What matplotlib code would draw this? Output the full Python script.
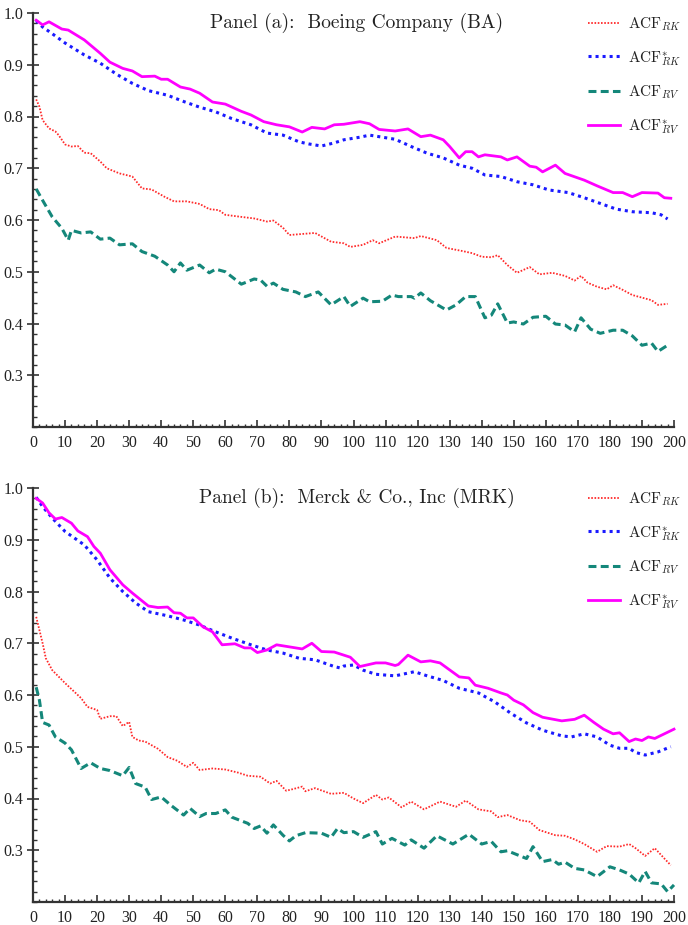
import matplotlib
matplotlib.use("Agg")
import matplotlib.pyplot as plt
from matplotlib.ticker import MultipleLocator, FormatStrFormatter

plt.rcParams['mathtext.fontset'] = 'cm'

# ---------------- Panel (a): Boeing ----------------
a_rk_lag = [1, 2, 3, 5, 7, 8, 10, 12, 14, 16, 18, 21, 23, 27, 31, 34, 37, 41, 44, 48, 52, 55, 58, 60, 65, 69, 73, 75, 78, 80, 88, 93, 97, 99, 103, 106, 108, 113, 119, 121, 126, 129, 134, 137, 140, 143, 145, 148, 151, 155, 158, 162, 166, 169, 171, 173, 176, 179, 181, 184, 187, 193, 195, 198]
a_rk = [0.833, 0.819, 0.793, 0.777, 0.771, 0.764, 0.746, 0.742, 0.743, 0.730, 0.729, 0.713, 0.700, 0.690, 0.684, 0.661, 0.659, 0.645, 0.636, 0.636, 0.631, 0.621, 0.619, 0.610, 0.606, 0.603, 0.597, 0.599, 0.585, 0.571, 0.575, 0.558, 0.555, 0.548, 0.552, 0.561, 0.555, 0.568, 0.565, 0.569, 0.561, 0.546, 0.540, 0.536, 0.529, 0.528, 0.532, 0.513, 0.498, 0.509, 0.495, 0.498, 0.492, 0.483, 0.492, 0.479, 0.471, 0.466, 0.474, 0.465, 0.455, 0.445, 0.436, 0.438]

a_rks_lag = [1, 3, 6, 10, 16, 21, 26, 31, 36, 42, 47, 52, 57, 62, 68, 73, 78, 83, 86, 90, 94, 97, 102, 105, 108, 113, 118, 123, 128, 133, 137, 141, 146, 151, 156, 161, 167, 172, 177, 182, 187, 193, 196, 198]
a_rks = [0.985, 0.973, 0.960, 0.942, 0.919, 0.903, 0.882, 0.864, 0.850, 0.841, 0.829, 0.818, 0.809, 0.796, 0.784, 0.768, 0.764, 0.751, 0.747, 0.743, 0.749, 0.755, 0.760, 0.764, 0.761, 0.756, 0.742, 0.729, 0.720, 0.706, 0.700, 0.687, 0.684, 0.674, 0.668, 0.658, 0.653, 0.643, 0.632, 0.621, 0.616, 0.614, 0.610, 0.602]

a_rv_lag = [1, 3, 6, 9, 11, 12, 15, 18, 21, 24, 27, 31, 34, 38, 42, 44, 46, 48, 52, 55, 57, 60, 65, 69, 71, 73, 75, 78, 82, 85, 89, 93, 97, 99, 103, 105, 109, 112, 114, 118, 119, 121, 124, 129, 132, 135, 138, 141, 143, 145, 148, 150, 153, 156, 160, 163, 166, 169, 171, 174, 177, 181, 184, 187, 190, 193, 195, 198]
a_rv = [0.660, 0.638, 0.606, 0.584, 0.561, 0.580, 0.575, 0.577, 0.563, 0.565, 0.552, 0.554, 0.539, 0.530, 0.513, 0.500, 0.517, 0.503, 0.513, 0.498, 0.505, 0.500, 0.476, 0.486, 0.484, 0.472, 0.478, 0.466, 0.461, 0.452, 0.461, 0.436, 0.452, 0.433, 0.449, 0.442, 0.443, 0.455, 0.452, 0.452, 0.449, 0.459, 0.444, 0.426, 0.436, 0.452, 0.452, 0.411, 0.416, 0.438, 0.401, 0.403, 0.399, 0.412, 0.414, 0.399, 0.397, 0.384, 0.411, 0.389, 0.381, 0.387, 0.387, 0.376, 0.358, 0.362, 0.346, 0.358]

a_rvs_lag = [1, 3, 5, 9, 11, 16, 21, 24, 28, 31, 34, 38, 40, 42, 46, 49, 52, 56, 60, 65, 68, 72, 76, 80, 84, 87, 91, 94, 97, 102, 105, 108, 113, 117, 121, 124, 128, 130, 133, 135, 137, 139, 141, 146, 148, 151, 155, 157, 159, 163, 166, 172, 176, 181, 184, 187, 190, 195, 197, 199]
a_rvs = [0.986, 0.977, 0.983, 0.969, 0.967, 0.948, 0.922, 0.905, 0.893, 0.888, 0.877, 0.878, 0.872, 0.872, 0.857, 0.853, 0.845, 0.828, 0.824, 0.810, 0.803, 0.790, 0.784, 0.780, 0.770, 0.779, 0.776, 0.784, 0.785, 0.790, 0.786, 0.775, 0.772, 0.776, 0.761, 0.764, 0.755, 0.742, 0.720, 0.732, 0.732, 0.722, 0.726, 0.722, 0.716, 0.722, 0.704, 0.702, 0.693, 0.706, 0.690, 0.677, 0.666, 0.653, 0.653, 0.645, 0.653, 0.652, 0.643, 0.642]

# ---------------- Panel (b): Merck ----------------
b_rk_lag = [1, 3, 4, 6, 10, 15, 17, 20, 21, 24, 26, 28, 30, 31, 33, 35, 39, 42, 45, 48, 50, 52, 56, 60, 64, 67, 71, 74, 76, 79, 81, 84, 85, 88, 93, 97, 100, 103, 107, 109, 111, 115, 118, 122, 127, 132, 135, 139, 143, 145, 148, 152, 155, 158, 163, 166, 169, 172, 176, 179, 183, 186, 188, 191, 194, 197, 199]
b_rk = [0.751, 0.700, 0.671, 0.648, 0.623, 0.594, 0.577, 0.571, 0.554, 0.559, 0.559, 0.540, 0.548, 0.519, 0.512, 0.510, 0.496, 0.480, 0.473, 0.461, 0.469, 0.455, 0.458, 0.456, 0.450, 0.444, 0.442, 0.429, 0.434, 0.415, 0.418, 0.423, 0.414, 0.420, 0.409, 0.411, 0.400, 0.391, 0.407, 0.398, 0.402, 0.383, 0.394, 0.379, 0.394, 0.384, 0.396, 0.379, 0.375, 0.364, 0.368, 0.358, 0.355, 0.339, 0.329, 0.328, 0.321, 0.312, 0.297, 0.308, 0.307, 0.312, 0.304, 0.289, 0.304, 0.284, 0.271]

b_rks_lag = [1, 3, 6, 10, 16, 20, 24, 28, 32, 36, 42, 47, 52, 57, 62, 68, 73, 78, 83, 88, 94, 96, 97, 100, 103, 107, 113, 119, 123, 128, 133, 139, 141, 144, 149, 154, 159, 165, 168, 172, 176, 180, 183, 186, 188, 191, 195, 199]
b_rks = [0.982, 0.964, 0.942, 0.916, 0.890, 0.861, 0.826, 0.800, 0.778, 0.761, 0.753, 0.745, 0.735, 0.722, 0.710, 0.697, 0.687, 0.681, 0.671, 0.668, 0.655, 0.652, 0.656, 0.658, 0.648, 0.640, 0.637, 0.645, 0.637, 0.628, 0.613, 0.604, 0.597, 0.587, 0.565, 0.546, 0.532, 0.521, 0.519, 0.525, 0.519, 0.503, 0.497, 0.497, 0.489, 0.484, 0.490, 0.500]

b_rv_lag = [1, 2, 3, 5, 7, 10, 12, 15, 18, 21, 24, 28, 30, 32, 35, 37, 40, 43, 47, 49, 52, 54, 57, 60, 62, 67, 69, 71, 73, 75, 78, 80, 82, 85, 90, 93, 95, 97, 100, 103, 107, 109, 112, 116, 118, 122, 126, 131, 136, 140, 143, 146, 148, 154, 156, 159, 162, 164, 166, 169, 172, 176, 180, 183, 186, 189, 191, 193, 196, 198, 200]
b_rv = [0.615, 0.590, 0.547, 0.542, 0.519, 0.507, 0.494, 0.458, 0.469, 0.458, 0.454, 0.444, 0.460, 0.429, 0.422, 0.398, 0.403, 0.387, 0.368, 0.381, 0.365, 0.371, 0.371, 0.378, 0.364, 0.352, 0.342, 0.347, 0.333, 0.349, 0.329, 0.318, 0.328, 0.334, 0.333, 0.325, 0.342, 0.334, 0.336, 0.325, 0.336, 0.312, 0.323, 0.310, 0.320, 0.304, 0.328, 0.312, 0.331, 0.312, 0.317, 0.297, 0.299, 0.284, 0.307, 0.278, 0.282, 0.273, 0.277, 0.265, 0.262, 0.249, 0.268, 0.262, 0.254, 0.237, 0.259, 0.237, 0.235, 0.220, 0.233]

b_rvs_lag = [1, 3, 5, 7, 9, 12, 14, 17, 19, 21, 24, 28, 31, 36, 39, 42, 44, 46, 48, 50, 53, 56, 59, 63, 66, 68, 70, 73, 76, 80, 84, 87, 90, 94, 97, 99, 102, 107, 110, 113, 114, 117, 121, 124, 127, 133, 136, 138, 142, 146, 148, 150, 153, 156, 159, 165, 169, 172, 175, 178, 181, 183, 186, 188, 190, 192, 194, 197, 200]
b_rvs = [0.980, 0.971, 0.952, 0.940, 0.943, 0.932, 0.917, 0.906, 0.887, 0.874, 0.842, 0.813, 0.797, 0.772, 0.769, 0.770, 0.759, 0.758, 0.749, 0.749, 0.732, 0.722, 0.697, 0.699, 0.691, 0.691, 0.682, 0.687, 0.697, 0.693, 0.689, 0.700, 0.684, 0.683, 0.677, 0.673, 0.655, 0.662, 0.662, 0.657, 0.659, 0.677, 0.664, 0.666, 0.662, 0.635, 0.633, 0.619, 0.613, 0.604, 0.600, 0.590, 0.581, 0.566, 0.557, 0.550, 0.553, 0.561, 0.547, 0.534, 0.525, 0.527, 0.510, 0.515, 0.512, 0.519, 0.516, 0.525, 0.534]

titles = ["Panel (a):  Boeing Company (BA)", "Panel (b):  Merck & Co., Inc (MRK)"]
labels = [r'$\mathrm{ACF}_{RK}$', r'$\mathrm{ACF}^{*}_{RK}$', r'$\mathrm{ACF}_{RV}$', r'$\mathrm{ACF}^{*}_{RV}$']
xticks = list(range(0, 201, 10))
yticks = [0.3, 0.4, 0.5, 0.6, 0.7, 0.8, 0.9, 1.0]

panels = [
    [(a_rk_lag, a_rk), (a_rks_lag, a_rks), (a_rv_lag, a_rv), (a_rvs_lag, a_rvs)],
    [(b_rk_lag, b_rk), (b_rks_lag, b_rks), (b_rv_lag, b_rv), (b_rvs_lag, b_rvs)],
]

styles = [
    dict(color='#ff2a2a', lw=1.3, linestyle=(0, (0.9, 0.9))),
    dict(color='#1a1aff', lw=2.2, linestyle=(0, (1.0, 1.3))),
    dict(color='#14877a', lw=2.2, linestyle=(0, (2.6, 1.4))),
    dict(color='#ff00ff', lw=2.0, linestyle='-'),
]

W, H = 688, 925
fig = plt.figure(figsize=(W / 100, H / 100), dpi=100)

ax_px = [(33, 13, 674, 427), (33, 488, 674, 902)]
spine_col = '#333333'

for i, (series, (x0, y0, x1, y1)) in enumerate(zip(panels, ax_px)):
    ax = fig.add_axes([x0 / W, 1 - y1 / H, (x1 - x0) / W, (y1 - y0) / H])
    handles = []
    for (lx, ly), st, lab in zip(series, styles, labels):
        h, = ax.plot(lx, ly, label=lab, clip_on=False, **st)
        handles.append(h)
    ax.set_xlim(0, 200)
    ax.set_ylim(0.2, 1.0)
    ax.set_xticks(xticks)
    ax.set_yticks(yticks)
    ax.xaxis.set_minor_locator(MultipleLocator(2))
    ax.yaxis.set_minor_locator(MultipleLocator(0.02))
    ax.yaxis.set_major_formatter(FormatStrFormatter('%.1f'))
    for s in ['top', 'right']:
        ax.spines[s].set_visible(False)
    for s in ['left', 'bottom']:
        ax.spines[s].set_color(spine_col)
        ax.spines[s].set_linewidth(1.6)
    ax.tick_params(axis='x', which='major', direction='in', length=5, width=1.2,
                   color=spine_col, pad=6)
    ax.tick_params(axis='x', which='minor', direction='in', length=2.5, width=1.0,
                   color=spine_col)
    ax.tick_params(axis='y', which='major', direction='inout', length=8, width=1.2,
                   color=spine_col, pad=3)
    ax.tick_params(axis='y', which='minor', direction='in', length=3, width=1.0,
                   color=spine_col)
    for lab in ax.get_xticklabels() + ax.get_yticklabels():
        lab.set_fontfamily('Liberation Serif')
        lab.set_fontsize(11.5)
        lab.set_color('#222222')
    ax.text(0.505, 1 - 10 / 414, titles[i], transform=ax.transAxes, ha='center',
            va='center', fontsize=14, family='cmr10', color='#222222')
    leg = ax.legend(handles=handles, loc='upper left',
                    bbox_to_anchor=(588 / W, 1 - (y0 + 2) / H),
                    bbox_transform=fig.transFigure, frameon=False,
                    fontsize=11, handlelength=2.1, handletextpad=0.5,
                    labelspacing=1.05, borderpad=0, borderaxespad=0)
    for t in leg.get_texts():
        t.set_color('#222222')

fig.savefig('out.png', dpi=100)
